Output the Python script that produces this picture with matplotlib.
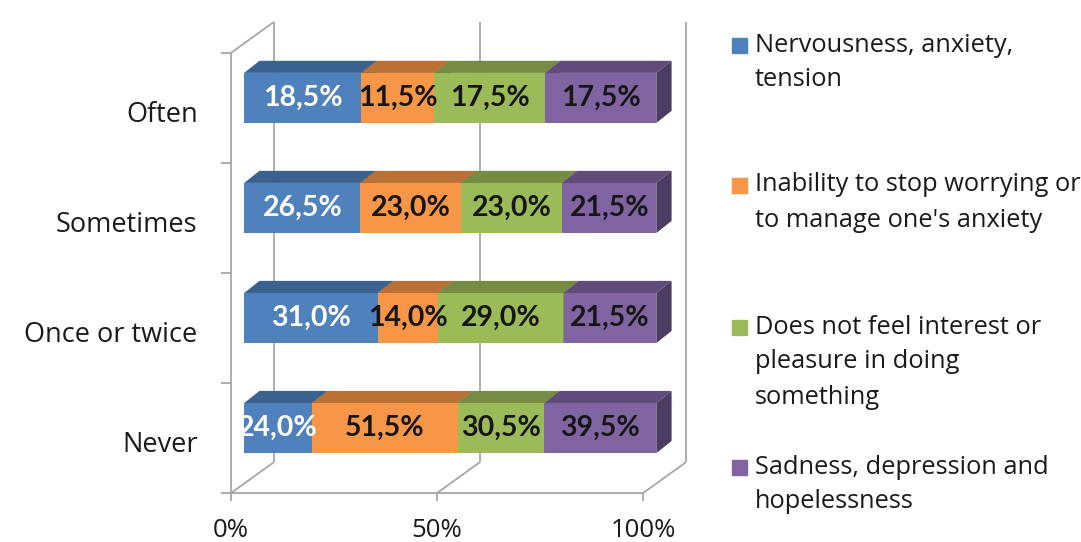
import numpy as np
import matplotlib.pyplot as plt
from matplotlib.patches import Rectangle
from matplotlib.transforms import ScaledTranslation

plt.rcParams["font.family"] = ["Open Sans", "DejaVu Sans"]

# answers per frequency (raw shares, stacked to 100%)
categories = ["Never", "Once or twice", "Sometimes", "Often"]
series_names = [
    "Nervousness, anxiety,\ntension",
    "Inability to stop worrying or\nto manage one's anxiety",
    "Does not feel interest or\npleasure in doing\nsomething",
    "Sadness, depression and\nhopelessness",
]
nervousness = [24.0, 31.0, 26.5, 18.5]
worrying = [51.5, 14.0, 23.0, 11.5]
no_interest = [30.5, 29.0, 23.0, 17.5]
sadness = [39.5, 21.5, 21.5, 17.5]
x_ticks = [0, 50, 100]

colors = ["#4F81BD", "#F79646", "#9BBB59", "#8064A2"]
text_colors = ["white", "#161616", "#161616", "#161616"]
gray = "#a6a6a6"

# fake 3d geometry (data units)
WALL_DX, WALL_DY = 10.4, 0.28
FRONT_DX, FRONT_DY = 3.2, 0.09
DEPTH_DX, DEPTH_DY = 3.7, 0.11
BAR_H = 0.455


def shade(c, f):
    r, g, b = [int(c[i:i + 2], 16) / 255 for i in (1, 3, 5)]
    return (r * f, g * f, b * f)


W, H = 1081, 542
fig = plt.figure(figsize=(W / 100, H / 100), dpi=100)
ax = fig.add_axes([231 / W, 1 - 493 / H, (686 - 231) / W, (493 - 22) / H])
ax.set_xlim(0, 100 + WALL_DX)
ax.set_ylim(-0.5, 3.5 + WALL_DY)
for s in ax.spines.values():
    s.set_visible(False)

# walls and floor
kw = dict(color=gray, lw=1.3, clip_on=False, zorder=1, solid_capstyle="butt")
ax.plot([0, 0], [-0.5, 3.5], **kw)
ax.plot([0, WALL_DX], [3.5, 3.5 + WALL_DY], **kw)
ax.plot([0, 100], [-0.5, -0.5], **kw)
for t in x_ticks:
    ax.plot([t, t + WALL_DX], [-0.5, -0.5 + WALL_DY], **kw)
    ax.plot([t + WALL_DX] * 2, [-0.5 + WALL_DY, 3.5 + WALL_DY], **kw)

ax.set_xticks(x_ticks, labels=[f"{t}%" for t in x_ticks])
ax.tick_params(axis="x", length=6, width=1.3, color=gray, pad=12,
               labelsize=18.5, labelcolor="#1a1a1a")
ax.set_yticks(range(len(categories)), labels=categories)
ax.set_yticks(np.arange(-0.5, len(categories)), minor=True)
ax.tick_params(axis="y", which="major", length=0, pad=24,
               labelsize=19.5, labelcolor="#1a1a1a")
ax.tick_params(axis="y", which="minor", length=7, width=1.3, color=gray)
shift = ScaledTranslation(0, -4 / 100, fig.dpi_scale_trans)
for lbl in ax.get_yticklabels():
    lbl.set_transform(lbl.get_transform() + shift)

# stacked 3d bars
data = np.array([nervousness, worrying, no_interest, sadness])
shares = data / data.sum(axis=0) * 100
for i in range(len(categories)):
    left = 0.0
    y0 = i - BAR_H / 2 + FRONT_DY
    y1 = i + BAR_H / 2 + FRONT_DY
    for k in range(len(data)):
        w = shares[k, i]
        x0 = left + FRONT_DX
        x1 = x0 + w
        ax.fill([x0, x1, x1, x0], [y0, y0, y1, y1], color=colors[k],
                lw=0, zorder=3, clip_on=False)
        ax.fill([x0, x1, x1 + DEPTH_DX, x0 + DEPTH_DX],
                [y1, y1, y1 + DEPTH_DY, y1 + DEPTH_DY],
                color=shade(colors[k], 0.75), lw=0, zorder=3, clip_on=False)
        ax.fill([x1, x1 + DEPTH_DX, x1 + DEPTH_DX, x1],
                [y0, y0 + DEPTH_DY, y1 + DEPTH_DY, y1],
                color=shade(colors[k], 0.6), lw=0, zorder=3, clip_on=False)
        label = f"{data[k, i]:.1f}".replace(".", ",") + "%"
        ax.text((x0 + x1) / 2, (y0 + y1) / 2, label, ha="center", va="center",
                fontsize=20.5, fontweight="bold", color=text_colors[k], zorder=4,
                family=["Lato", "DejaVu Sans"])
        left += w

# legend
entry_tops = [45, 185, 327, 467]
for k, name in enumerate(series_names):
    yt = entry_tops[k]
    fig.patches.append(Rectangle((732 / W, 1 - (yt + 7.5) / H), 15 / W, 15 / H,
                                 transform=fig.transFigure, color=colors[k]))
    for j, line in enumerate(name.split("\n")):
        fig.text(755 / W, 1 - (yt + 35 * j) / H, line, ha="left", va="center",
                 fontsize=18.3, color="#1a1a1a")

fig.savefig("out.png", dpi=100)
